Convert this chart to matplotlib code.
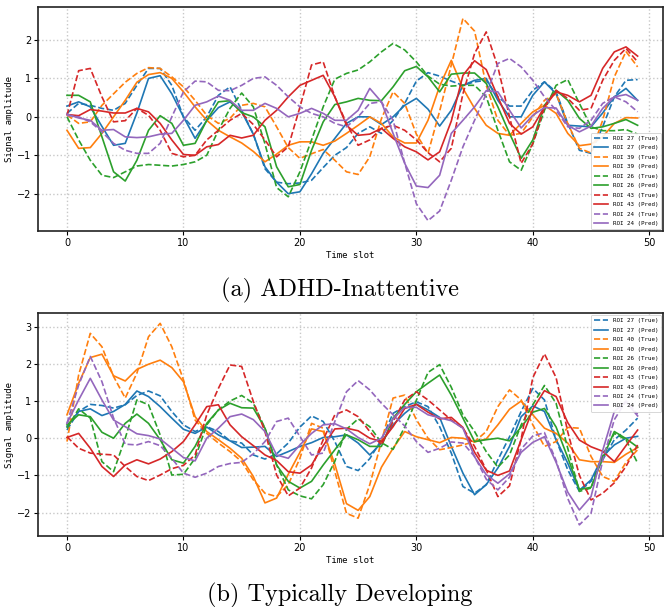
import numpy as np
import matplotlib
matplotlib.use("Agg")
import matplotlib.pyplot as plt

t = np.arange(50)

# ---------------- (a) ADHD-Inattentive ----------------
a_roi27_true = [0.09, 0.35, 0.30, 0.22, 0.17, 0.35, 0.82, 1.26, 1.26, 0.82,
                0.00, -0.35, 0.00, 0.56, 0.78, 0.17, -0.45, -1.35, -1.70, -1.74,
                -1.72, -1.65, -1.32, -1.00, -0.80, -0.43, -0.26, -0.43, -0.09, 0.35,
                0.93, 1.15, 1.06, 0.93, 0.82, 0.91, 0.95, 0.52, 0.28, 0.28,
                0.69, 0.91, 0.65, -0.17, -0.87, -0.95, -0.26, 0.52, 0.95, 0.97]
a_roi27_pred = [0.28, 0.39, 0.26, -0.25, -0.74, -0.69, 0.10, 1.00, 1.07, 0.60,
                0.00, -0.56, -0.10, 0.24, 0.39, 0.13, -0.45, -1.30, -1.70, -2.00,
                -1.95, -1.48, -0.95, -0.56, -0.17, 0.00, 0.00, -0.20, 0.00, 0.30,
                0.48, 0.20, -0.24, 0.17, 0.82, 0.95, 1.00, 0.43, 0.00, 0.00,
                0.56, 0.91, 0.60, -0.22, -0.24, -0.26, 0.10, 0.52, 0.74, 0.43]
a_roi39_true = [0.05, -0.17, -0.13, 0.30, 0.60, 0.90, 1.13, 1.28, 1.26, 1.04,
                0.78, 0.43, 0.04, -0.17, -0.04, 0.30, 0.35, 0.26, -0.26, -0.80,
                -1.08, -0.96, -0.85, -1.13, -1.43, -1.50, -1.04, -0.05, 0.65, 0.35,
                -0.45, -0.95, 0.15, 1.35, 2.56, 2.23, 0.82, -0.09, -0.48, -0.43,
                0.00, 0.43, 0.60, -0.17, -0.82, -0.94, -0.09, 1.04, 1.70, 1.30]
a_roi39_pred = [-0.35, -0.82, -0.80, -0.43, 0.00, 0.43, 0.90, 1.10, 1.15, 1.00,
                0.65, 0.26, -0.09, -0.35, -0.52, -0.68, -0.90, -1.17, -0.97, -0.74,
                -0.65, -0.65, -0.74, -0.63, -0.43, -0.22, 0.00, -0.17, -0.52, -0.68,
                -0.68, -0.09, 0.80, 1.47, 0.74, 0.22, -0.22, -0.43, -0.48, -0.17,
                0.13, 0.30, 0.09, -0.43, -0.75, -0.71, -0.52, -0.17, -0.02, -0.03]
a_roi26_true = [0.00, -0.60, -1.13, -1.52, -1.58, -1.43, -1.28, -1.24, -1.26, -1.28,
                -1.24, -1.17, -1.00, -0.35, 0.22, 0.62, 0.26, -0.70, -1.84, -2.08,
                -1.43, -0.60, 0.26, 0.98, 1.13, 1.22, 1.43, 1.69, 1.91, 1.74,
                1.43, 1.06, 0.85, 0.80, 0.82, 0.82, 0.52, -0.35, -1.17, -1.39,
                -0.70, 0.17, 0.82, 0.97, 0.35, -0.26, -0.36, -0.36, -0.33, -0.45]
a_roi26_pred = [0.56, 0.56, 0.39, -0.52, -1.43, -1.67, -1.13, -0.35, 0.03, -0.17,
                -0.74, -0.69, -0.09, 0.39, 0.42, 0.11, 0.00, -0.26, -1.30, -1.82,
                -1.76, -0.87, -0.13, 0.32, 0.39, 0.48, 0.43, 0.42, 0.78, 1.20,
                1.31, 1.04, 0.65, 1.11, 1.14, 1.14, 0.87, 0.26, -0.43, -1.08,
                -0.60, 0.30, 0.69, 0.43, -0.04, -0.30, -0.26, -0.17, -0.07, -0.22]
a_roi43_true = [0.04, 1.20, 1.26, 0.52, -0.13, -0.10, 0.22, 0.04, -0.35, -0.95,
                -1.04, -1.00, -0.60, -0.35, -0.09, 0.09, -0.20, -0.60, -1.04, -0.78,
                0.25, 1.35, 1.43, 0.52, -0.17, -0.74, -0.60, -0.30, -0.22, -0.35,
                -0.60, -0.93, -1.17, -0.82, 0.60, 1.65, 2.21, 1.30, 0.00, -1.21,
                -0.70, 0.26, 0.69, 0.48, 0.17, 0.22, 0.95, 1.47, 1.78, 1.43]
a_roi43_pred = [0.06, 0.03, 0.19, 0.15, 0.10, 0.10, 0.22, 0.13, -0.17, -0.60,
                -0.98, -1.00, -0.78, -0.72, -0.48, -0.55, -0.48, -0.09, 0.17, 0.52,
                0.82, 0.95, 1.08, 0.52, -0.22, -0.48, -0.45, -0.30, -0.56, -0.78,
                -0.91, -1.12, -0.91, -0.11, 1.08, 1.46, 1.23, 0.52, -0.17, -0.45,
                -0.26, 0.26, 0.65, 0.56, 0.39, 0.56, 1.26, 1.69, 1.82, 1.58]
a_roi24_true = [0.04, 0.00, -0.13, -0.39, -0.69, -0.87, -0.95, -0.95, -0.69, 0.00,
                0.65, 0.93, 0.91, 0.69, 0.68, 0.82, 1.00, 1.04, 0.82, 0.52,
                0.26, 0.09, 0.00, -0.17, -0.26, 0.00, 0.35, 0.39, -0.09, -1.20,
                -2.26, -2.70, -2.45, -1.65, -0.78, -0.09, 0.60, 1.39, 1.52, 1.30,
                0.95, 0.52, 0.17, -0.26, -0.30, -0.09, 0.35, 0.52, 0.39, 0.13]
a_roi24_pred = [0.07, -0.03, -0.09, -0.35, -0.33, -0.52, -0.54, -0.52, -0.45, -0.43,
                -0.09, 0.30, 0.39, 0.54, 0.43, 0.17, 0.17, 0.35, 0.22, 0.00,
                0.09, 0.22, 0.09, -0.09, -0.09, 0.17, 0.74, 0.39, -0.43, -1.21,
                -1.80, -1.84, -1.52, -0.43, -0.09, 0.26, 0.68, 0.65, 0.17, -0.29,
                0.04, 0.24, 0.23, -0.22, -0.39, -0.24, 0.22, 0.52, 0.58, 0.43]

# ---------------- (b) Typically Developing ----------------
b_roi27_true = [0.22, 0.72, 0.91, 0.88, 0.81, 0.90, 1.15, 1.27, 1.14, 0.72,
                0.36, 0.18, 0.31, 0.18, -0.07, -0.13, -0.45, -0.56, -0.42, -0.13,
                0.30, 0.60, 0.45, -0.09, -0.76, -0.87, -0.55, -0.04, 0.67, 0.85,
                0.98, 0.85, 0.31, -0.40, -1.30, -1.48, -1.25, -0.58, 0.04, 0.72,
                1.34, 1.03, -0.04, -0.85, -1.43, -1.16, -0.58, -0.04, 0.22, 0.54]
b_roi27_pred = [0.31, 0.72, 0.79, 0.61, 0.72, 0.91, 1.27, 1.12, 0.85, 0.54,
                0.24, 0.13, 0.30, 0.09, -0.07, -0.25, -0.24, -0.22, -0.49, -0.36,
                -0.22, -0.12, 0.02, 0.04, 0.09, -0.13, -0.45, -0.13, 0.36, 0.67,
                0.92, 0.76, 0.56, -0.22, -0.94, -1.52, -1.25, -0.80, -0.22, 0.58,
                0.87, 0.72, -0.04, -0.67, -1.40, -1.12, -0.49, -0.18, 0.00, 0.05]
b_roi40_true = [-0.09, 1.70, 2.82, 2.46, 1.66, 1.08, 1.75, 2.73, 3.09, 2.46,
                1.57, 0.49, 0.13, -0.13, -0.36, -0.63, -1.12, -1.48, -1.57, -1.25,
                -0.54, 0.40, 0.27, -0.90, -2.02, -2.15, -1.25, -0.09, 1.08, 1.16,
                0.50, 0.00, -0.31, -0.25, -0.18, -0.09, 0.18, 0.85, 1.30, 1.03,
                0.36, -0.22, -0.09, 0.29, 0.27, -0.49, -1.03, -1.16, -0.65, -0.31]
b_roi40_pred = [0.63, 1.48, 2.17, 2.26, 1.68, 1.54, 1.85, 1.99, 2.10, 1.90,
                1.52, 0.58, 0.18, -0.04, -0.27, -0.54, -1.03, -1.74, -1.61, -0.97,
                -0.38, 0.25, 0.18, -0.70, -1.76, -1.94, -1.57, -0.78, -0.27, 0.18,
                0.04, -0.04, -0.12, 0.02, 0.00, -0.10, -0.02, 0.36, 0.78, 1.00,
                0.63, 0.27, 0.13, -0.13, -0.58, -0.63, -0.63, -0.65, -0.43, -0.25]
b_roi26_true = [0.27, 0.79, 0.54, -0.63, -0.90, 0.00, 1.03, 0.90, 0.09, -0.99,
                -0.97, -0.54, 0.36, 0.76, 1.00, 1.15, 0.94, 0.27, -0.72, -1.39,
                -1.55, -1.63, -1.25, -0.62, 0.24, 0.52, 0.31, -0.12, -0.30, 0.30,
                1.02, 1.77, 1.98, 1.37, 0.63, 0.18, -0.36, -0.78, -0.45, 0.36,
                0.90, 1.42, 0.94, -0.27, -1.43, -1.34, -0.45, 0.13, -0.04, -0.67]
b_roi26_pred = [0.36, 0.63, 0.58, 0.16, 0.00, 0.40, 0.65, 0.40, -0.04, -0.58,
                -0.67, -0.22, 0.40, 0.76, 0.94, 0.82, 0.81, 0.27, -0.72, -1.16,
                -1.34, -1.16, -0.72, -0.31, 0.09, -0.04, -0.22, -0.22, 0.54, 0.91,
                1.25, 1.48, 1.70, 1.16, 0.54, -0.09, -0.04, 0.00, -0.07, 0.30,
                0.70, 0.80, 0.30, -0.52, -1.38, -1.32, -0.54, 0.18, -0.01, -0.24]
b_roi43_true = [0.04, -0.27, -0.40, -0.43, -0.45, -0.76, -1.03, -1.14, -0.99, -0.82,
                -0.73, -0.45, 0.63, 1.34, 1.97, 1.93, 0.99, 0.18, -0.99, -1.55,
                -1.34, -0.80, -0.04, 0.63, 0.76, 0.58, 0.18, -0.18, 0.45, 1.03,
                1.25, 1.03, 0.76, 0.49, 0.27, -0.22, -0.85, -1.57, -1.28, -0.02,
                1.63, 2.27, 1.63, 0.17, -1.00, -1.66, -1.48, -1.20, -0.76, -0.18]
b_roi43_pred = [0.02, 0.13, -0.27, -0.76, -1.03, -0.72, -0.58, -0.69, -0.56, -0.36,
                -0.09, 0.36, 0.85, 0.90, 0.36, 0.04, -0.20, -0.45, -0.60, -0.90,
                -0.94, -0.72, -0.20, 0.25, 0.27, 0.20, 0.00, -0.09, 0.31, 0.80,
                0.91, 0.70, 0.52, 0.56, 0.29, -0.38, -0.86, -1.00, -0.88, -0.04,
                0.78, 1.28, 1.12, 0.42, -0.05, -0.23, -0.35, -0.63, -0.20, 0.22]
b_roi24_true = [0.40, 1.43, 2.20, 1.52, 0.54, -0.16, -0.18, -0.09, -0.20, -0.54,
                -0.94, -1.05, -0.94, -0.76, -0.68, -0.65, -0.42, -0.09, 0.45, 0.54,
                0.05, -0.45, -0.40, 0.45, 1.25, 1.55, 1.30, 0.94, 0.63, 0.33,
                -0.09, -0.38, -0.27, -0.10, -0.13, -0.49, -1.10, -1.39, -1.05, -0.29,
                0.06, 0.15, -0.60, -1.62, -2.33, -2.02, -0.60, 0.50, 1.00, 0.65]
b_roi24_pred = [0.40, 1.03, 1.61, 1.03, 0.49, 0.31, 0.12, 0.07, -0.02, -0.27,
                -0.52, -0.61, 0.00, 0.27, 0.58, 0.65, 0.50, 0.18, -0.45, -0.54,
                -0.18, 0.13, 0.36, 0.39, 0.25, 0.02, -0.15, 0.00, 0.52, 0.83,
                0.83, 0.63, 0.55, 0.47, 0.27, -0.50, -0.98, -1.21, -0.96, -0.38,
                -0.11, 0.04, -0.65, -1.45, -1.93, -1.57, -0.33, 0.72, 0.98, 0.60]

colors = ['#1f77b4', '#ff7f0e', '#2ca02c', '#d62728', '#9467bd']

panel_a = [("ROI 27", a_roi27_true, a_roi27_pred),
           ("ROI 39", a_roi39_true, a_roi39_pred),
           ("ROI 26", a_roi26_true, a_roi26_pred),
           ("ROI 43", a_roi43_true, a_roi43_pred),
           ("ROI 24", a_roi24_true, a_roi24_pred)]
panel_b = [("ROI 27", b_roi27_true, b_roi27_pred),
           ("ROI 40", b_roi40_true, b_roi40_pred),
           ("ROI 26", b_roi26_true, b_roi26_pred),
           ("ROI 43", b_roi43_true, b_roi43_pred),
           ("ROI 24", b_roi24_true, b_roi24_pred)]

W, H = 664, 607
fig = plt.figure(figsize=(W / 100, H / 100), dpi=100)

def px_axes(left, top, right, bottom):
    return fig.add_axes([left / W, 1 - bottom / H, (right - left) / W, (bottom - top) / H])

ax_a = px_axes(38, 7.3, 663, 231)
ax_b = px_axes(38, 313.3, 663, 536)

mono = 'DejaVu Sans Mono'

def draw(ax, panel, ylim, yticks, legend_loc):
    for c, (name, tr, pr) in zip(colors, panel):
        ax.plot(t, tr, linestyle='--', color=c, lw=1.2, label=f"{name} (True)")
        ax.plot(t, pr, linestyle='-', color=c, lw=1.2, label=f"{name} (Pred)")
    ax.set_xlim(-2.49, 51.18)
    ax.set_ylim(*ylim)
    ax.set_xticks([0, 10, 20, 30, 40, 50])
    ax.set_yticks(yticks)
    ax.set_yticklabels([f"{v:d}".replace('-', '\u2212') for v in yticks])
    ax.grid(True, linestyle=':', color='#c8c8c8', linewidth=1.0)
    ax.tick_params(labelsize=7, length=3, width=0.8, pad=2)
    for s in ax.spines.values():
        s.set_linewidth(1.2)
        s.set_color('#222222')
    ax.set_xlabel('Time slot', fontsize=6.5, family=mono, labelpad=2)
    ax.set_ylabel('Signal amplitude', fontsize=6.5, family=mono)
    ax.yaxis.set_label_coords(-0.038, 0.5)
    leg = ax.legend(loc=legend_loc, prop={'family': mono, 'size': 4.2},
                    handlelength=2.3, handletextpad=0.8, labelspacing=0.75,
                    borderpad=0.55, framealpha=0.9, fancybox=True, borderaxespad=0.3)
    leg.get_frame().set_linewidth(0.6)

draw(ax_a, panel_a, (-2.97, 2.85), [-2, -1, 0, 1, 2], 'lower right')
draw(ax_b, panel_b, (-2.63, 3.36), [-2, -1, 0, 1, 2, 3], 'upper right')

fig.text(340 / W, 1 - 290 / H, '(a) ADHD-Inattentive', ha='center', va='center',
         family='cmr10', fontsize=17.5)
fig.text(340 / W, 1 - 595 / H, '(b) Typically Developing', ha='center', va='center',
         family='cmr10', fontsize=17.5)

fig.savefig('out.png', dpi=100)
